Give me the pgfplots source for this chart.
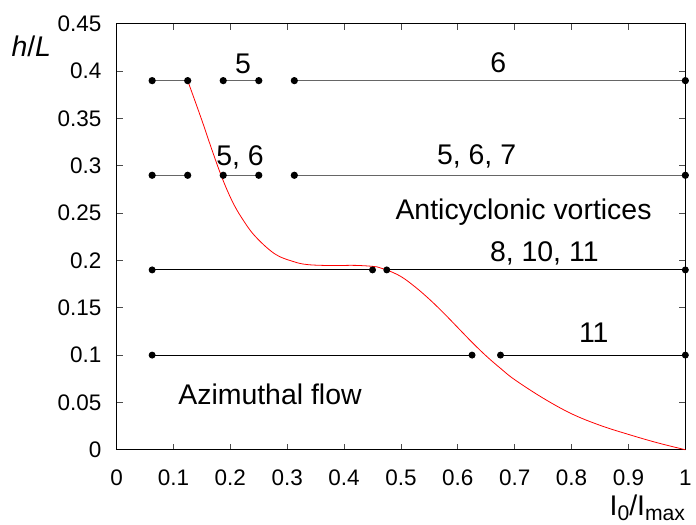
\documentclass[border=0pt]{standalone}
\usepackage{fontspec}
\setmainfont{Liberation Sans}
\usepackage{pgfplots}
\pgfplotsset{compat=1.18}
\tikzset{every node/.append style={font=\fontsize{21.5}{25}\selectfont}}
\begin{document}
\begin{tikzpicture}
\begin{axis}[
  width=430pt, height=322pt, scale only axis,
  xmin=0, xmax=1, ymin=0, ymax=0.45,
  xtick={0,0.1,0.2,0.3,0.4,0.5,0.6,0.7,0.8,0.9,1},
  ytick={0,0.05,0.1,0.15,0.2,0.25,0.3,0.35,0.4,0.45},
  tick align=inside, major tick length=4.5pt,
  /pgf/number format/assume math mode=true,
  /pgf/number format/.cd, fixed, precision=2, /tikz/.cd,
  tick label style={font=\fontsize{17}{20}\selectfont},
  xticklabel style={yshift=-12pt},
  yticklabel style={xshift=-8pt},
  axis line style={line width=0.9pt},
  every tick/.style={line width=0.6pt, black!70},
  clip=false,
]
\path (axis cs:-0.205,-0.0794) rectangle (axis cs:1.0096,0.4752);
% horizontal segments
\addplot[black!60, line width=1pt, mark=*, mark size=2.2pt, mark options={black}] coordinates {(0.0625,0.39) (0.125,0.39)};
\addplot[black!60, line width=1pt, mark=*, mark size=2.2pt, mark options={black}] coordinates {(0.1875,0.39) (0.25,0.39)};
\addplot[black!60, line width=1pt, mark=*, mark size=2.2pt, mark options={black}] coordinates {(0.3125,0.39) (1,0.39)};
\addplot[black!60, line width=1pt, mark=*, mark size=2.2pt, mark options={black}] coordinates {(0.0625,0.29) (0.125,0.29)};
\addplot[black!60, line width=1pt, mark=*, mark size=2.2pt, mark options={black}] coordinates {(0.1875,0.29) (0.25,0.29)};
\addplot[black!60, line width=1pt, mark=*, mark size=2.2pt, mark options={black}] coordinates {(0.3125,0.29) (1,0.29)};
\addplot[black, line width=0.8pt, mark=*, mark size=2.2pt] coordinates {(0.0625,0.19) (0.45,0.19)};
\addplot[black, line width=0.8pt, mark=*, mark size=2.2pt] coordinates {(0.475,0.19) (1,0.19)};
\addplot[black, line width=0.8pt, mark=*, mark size=2.2pt] coordinates {(0.0625,0.1) (0.625,0.1)};
\addplot[black, line width=0.8pt, mark=*, mark size=2.2pt] coordinates {(0.675,0.1) (1,0.1)};
% red curve
\addplot[red, line width=0.6pt, smooth, tension=0.6] coordinates {
(0.125,0.39) (0.15,0.348) (0.167,0.318) (0.185,0.288) (0.203,0.263)
(0.22,0.245) (0.243,0.226) (0.278,0.207) (0.31,0.199) (0.336,0.1956)
(0.38,0.1946) (0.42,0.1948) (0.458,0.1932) (0.475,0.19) (0.50,0.183)
(0.525,0.172) (0.55,0.159) (0.575,0.1445) (0.60,0.129) (0.625,0.1135)
(0.65,0.099) (0.675,0.086) (0.70,0.074) (0.75,0.0545) (0.80,0.038)
(0.85,0.0258) (0.90,0.0162) (0.95,0.0075) (1,0)};
% labels
\node[anchor=base] at (axis cs:0.2225,0.398) {5};
\node[anchor=base] at (axis cs:0.671,0.399) {6};
\node[anchor=base] at (axis cs:0.217,0.3006) {5, 6};
\node[anchor=base] at (axis cs:0.633,0.301) {5, 6, 7};
\node[anchor=base] at (axis cs:0.7155,0.2428) {Anticyclonic vortices};
\node[anchor=base] at (axis cs:0.752,0.1992) {8, 10, 11};
\node[anchor=base] at (axis cs:0.839,0.1135) {11};
\node[anchor=base] at (axis cs:0.2697,0.0482) {Azimuthal flow};
\node[anchor=base] at (axis cs:-0.150,0.4158) {\textit{h}/\textit{L}};
\node[anchor=base east, inner xsep=0pt, inner ysep=3pt] at (axis cs:1.0,-0.069) {I\raisebox{-0.2em}{\fontsize{16}{18}\selectfont 0}/I\raisebox{-0.2em}{\fontsize{16}{18}\selectfont max}};
\end{axis}
\end{tikzpicture}
\end{document}
